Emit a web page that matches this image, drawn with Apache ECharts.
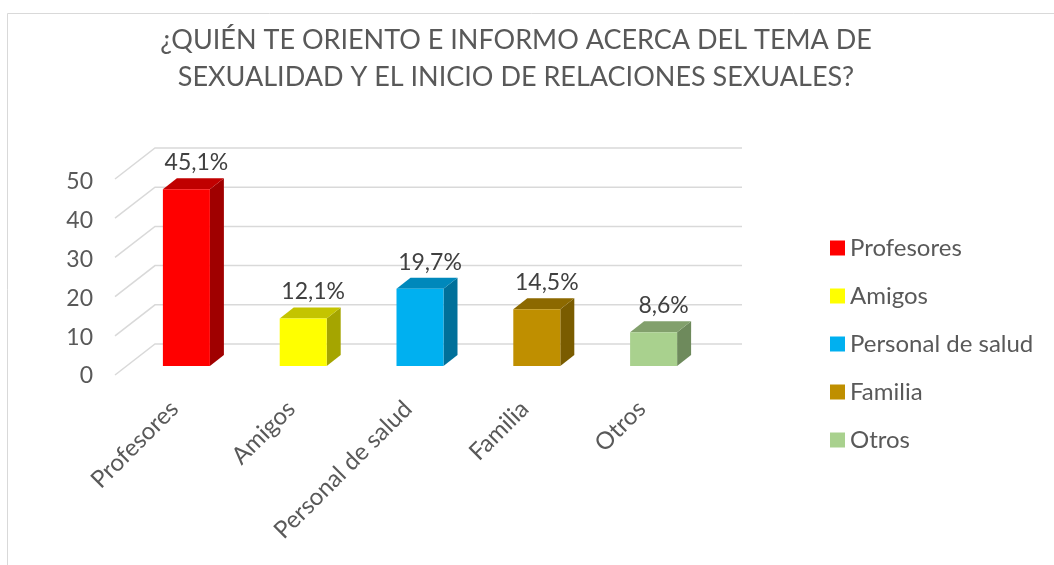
<!DOCTYPE html>
<html>
<head>
<meta charset="utf-8">
<script src="https://cdn.jsdelivr.net/npm/echarts@6/dist/echarts.min.js"></script>
<style>
  html, body { margin: 0; padding: 0; background: #fff; }
  #chart { width: 1054px; height: 565px; }
</style>
</head>
<body>
<div id="chart"></div>
<script>
// datos
const categories = ['Profesores', 'Amigos', 'Personal de salud', 'Familia', 'Otros'];
const values = [45.1, 12.1, 19.7, 14.5, 8.6];
const yTicks = [0, 10, 20, 30, 40, 50];

// colores de cada cara
const frontColors = ['#FF0000', '#FFFF00', '#00B0F0', '#BF8F00', '#A9D18E'];
const topColors = ['#C00000', '#C4C400', '#0088BB', '#8C6900', '#82A06C'];
const sideColors = ['#A00000', '#A5A500', '#00709A', '#7A5C00', '#6E8A5C'];

const FONT = 'Lato, Carlito, "Liberation Sans", sans-serif';
const chart = echarts.init(document.getElementById('chart'));

// profundidad del efecto 3D
const barW = 47, dx = 14, dy = 11;

function fmt(v) {
  return v.toFixed(1).replace('.', ',') + '%';
}

function makeBarRender(idx) {
  return function (params, api) {
    const base = api.coord([api.value(0), 0]);
    const top = api.coord([api.value(0), api.value(1)]);
    const l = base[0] - barW / 2;
    const r = l + barW;
    const y0 = base[1], y1 = top[1];
    return {
      type: 'group',
      children: [
        {
          type: 'polygon',
          shape: { points: [[r, y1], [r + dx, y1 - dy], [r + dx, y0 - dy], [r, y0]] },
          style: { fill: sideColors[idx] }
        },
        {
          type: 'polygon',
          shape: { points: [[l, y1], [l + dx, y1 - dy], [r + dx, y1 - dy], [r, y1]] },
          style: { fill: topColors[idx] }
        },
        {
          type: 'rect',
          shape: { x: l, y: y1, width: barW, height: y0 - y1 },
          style: { fill: frontColors[idx] }
        },
        {
          type: 'text',
          x: base[0] + dx / 2 + 3,
          y: y1 - dy - 4,
          style: {
            text: fmt(api.value(1)),
            fill: '#404040',
            font: '23px ' + FONT,
            align: 'center',
            verticalAlign: 'bottom'
          }
        }
      ]
    };
  };
}

// lineas de la pared del fondo
function renderGrid(params, api) {
  const cs = params.coordSys;
  const y = api.coord([0, api.value(1)])[1];
  return {
    type: 'polyline',
    shape: {
      points: [
        [cs.x - 13, y + 9],
        [cs.x + 27, y - 22],
        [cs.x + cs.width + 30, y - 22]
      ]
    },
    style: { stroke: '#D9D9D9', lineWidth: 1.5, fill: null }
  };
}

const series = [{
  type: 'custom',
  name: '_grid',
  xAxisIndex: 0,
  yAxisIndex: 0,
  z: 1,
  silent: true,
  clip: false,
  renderItem: renderGrid,
  data: yTicks.map(v => [0, v])
}];

categories.forEach((c, i) => {
  series.push({
    type: 'custom',
    name: c,
    xAxisIndex: 0,
    yAxisIndex: 0,
    z: 2,
    clip: false,
    itemStyle: { color: frontColors[i] },
    renderItem: makeBarRender(i),
    data: [[i, values[i]]]
  });
});

const option = {
  animation: false,
  backgroundColor: '#fff',
  graphic: [{
    type: 'rect',
    left: 5,
    top: 11,
    shape: { width: 1100, height: 600 },
    style: { fill: null, stroke: '#D9D9D9', lineWidth: 1 },
    silent: true
  }],
  title: {
    text: '¿QUIÉN TE ORIENTO E INFORMO ACERCA DEL TEMA DE\nSEXUALIDAD Y EL INICIO DE RELACIONES SEXUALES?',
    left: 511,
    top: 17,
    textAlign: 'center',
    textStyle: {
      fontFamily: FONT,
      fontSize: 27,
      fontWeight: 'normal',
      color: '#595959',
      lineHeight: 37
    }
  },
  legend: {
    orient: 'vertical',
    left: 825,
    top: 231,
    icon: 'rect',
    itemWidth: 15,
    itemHeight: 15,
    itemGap: 24,
    data: categories,
    textStyle: { fontFamily: FONT, fontSize: 24, color: '#595959' }
  },
  grid: [
    { left: 128, width: 584, top: 170, height: 196 },
    { left: 116, width: 584, top: 182, height: 194 }
  ],
  xAxis: [
    {
      type: 'category',
      gridIndex: 0,
      data: categories,
      axisLine: { show: false },
      axisTick: { show: false },
      axisLabel: {
        rotate: 45,
        margin: 27,
        padding: [0, 17, 0, 0],
        fontFamily: FONT,
        fontSize: 24,
        color: '#595959'
      }
    },
    { type: 'value', gridIndex: 1, show: false }
  ],
  yAxis: [
    {
      type: 'value',
      gridIndex: 0,
      min: 0,
      max: 50,
      interval: 10,
      show: false
    },
    {
      type: 'value',
      gridIndex: 1,
      min: 0,
      max: 50,
      interval: 10,
      axisLine: { show: false },
      axisTick: { show: false },
      splitLine: { show: false },
      axisLabel: {
        margin: 23,
        fontFamily: FONT,
        fontSize: 23,
        color: '#595959'
      }
    }
  ],
  series: series
};

chart.setOption(option);
</script>
</body>
</html>
